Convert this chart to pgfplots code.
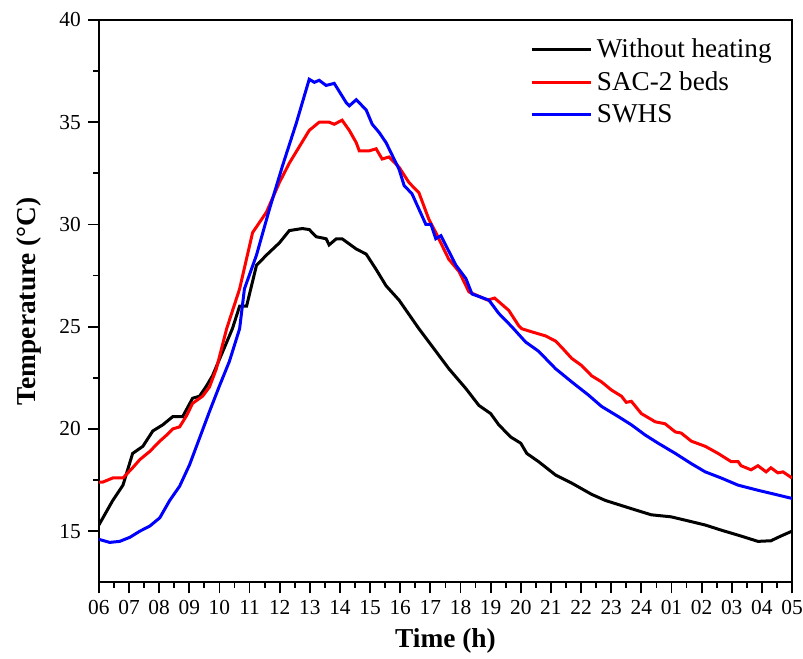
\documentclass[border=0pt]{standalone}
\usepackage{pgfplots}
\pgfplotsset{compat=1.18}
\usepackage{fontspec}
\setmainfont{Liberation Serif}
\begin{document}
\begin{tikzpicture}
\begin{axis}[
  scale only axis,
  width=347pt, height=281.5pt,
  xmin=0, xmax=23, ymin=12.5, ymax=40,
  xtick={0,...,23},
  xticklabels={06,07,08,09,10,11,12,13,14,15,16,17,18,19,20,21,22,23,24,01,02,03,04,05},
  minor x tick num=1,
  ytick={15,20,25,30,35,40},
  minor y tick num=1,
  tick align=outside,
  xtick pos=bottom, ytick pos=left,
  major tick length=5.5pt, minor tick length=2.7pt,
  every tick/.style={black, line width=0.9pt},
  axis line style={line width=0.9pt},
  /pgf/number format/assume math mode=true,
  ticklabel style={font=\fontsize{10.7}{13}\selectfont},
  xlabel={\textbf{Time (h)}},
  ylabel={\textbf{Temperature (°C)}},
  label style={font=\fontsize{13.7}{15}\selectfont},
  ylabel style={yshift=2pt},
  legend style={draw=none, fill=none, at={(1,1)}, anchor=north east, xshift=-5pt, yshift=-5pt,
    font=\fontsize{13.6}{15}\selectfont, row sep=1.6pt},
  legend cell align=left,
  legend image code/.code={\draw[#1] (0pt,0pt) -- (30pt,0pt);},
]
\addplot[black, line width=1.5pt] coordinates {
(0,15.3)(0.46,16.5)(0.8,17.25)(1.12,18.8)(1.46,19.15)(1.79,19.9)(2.12,20.2)(2.45,20.6)(2.78,20.6)(3.11,21.5)(3.34,21.6)(3.57,22.1)(3.77,22.6)(4.0,23.4)(4.33,24.55)(4.43,24.9)(4.67,26.0)(4.9,26.0)(5.23,28.0)(5.56,28.5)(5.99,29.1)(6.32,29.7)(6.75,29.8)(6.98,29.75)(7.21,29.4)(7.54,29.3)(7.64,29.0)(7.88,29.3)(8.07,29.3)(8.54,28.8)(8.87,28.55)(9.2,27.8)(9.53,27.0)(9.96,26.3)(10.62,24.9)(11.18,23.8)(11.61,22.95)(12.18,21.97)(12.61,21.15)(13.0,20.75)(13.27,20.2)(13.67,19.6)(14.0,19.3)(14.2,18.8)(14.59,18.4)(15.15,17.75)(15.69,17.35)(16.35,16.8)(16.81,16.5)(17.24,16.3)(17.67,16.1)(18.33,15.8)(18.99,15.7)(19.56,15.5)(20.12,15.3)(20.65,15.05)(21.31,14.76)(21.87,14.5)(22.3,14.53)(22.63,14.76)(23,15.0)
};
\addlegendentry{Without heating}
\addplot[red, line width=1.5pt] coordinates {
(0,17.4)(0.13,17.4)(0.46,17.6)(0.8,17.6)(1.12,18.1)(1.36,18.5)(1.69,18.9)(2.02,19.4)(2.25,19.7)(2.45,20.0)(2.68,20.1)(2.91,20.65)(3.11,21.25)(3.44,21.6)(3.67,22.05)(3.9,22.95)(4.24,24.9)(4.67,26.85)(5.1,29.6)(5.56,30.6)(5.99,32.05)(6.32,33.0)(6.65,33.8)(6.98,34.6)(7.31,35.0)(7.64,35.0)(7.81,34.9)(8.07,35.1)(8.31,34.6)(8.54,34.0)(8.64,33.6)(8.97,33.6)(9.2,33.7)(9.4,33.2)(9.63,33.3)(9.96,32.8)(10.29,32.05)(10.62,31.55)(10.95,30.25)(11.18,29.6)(11.61,28.3)(11.95,27.7)(12.28,26.7)(12.9,26.3)(13.13,26.4)(13.6,25.8)(13.93,25.05)(14.03,24.9)(14.36,24.75)(14.82,24.55)(15.15,24.3)(15.35,24.0)(15.69,23.45)(16.02,23.1)(16.35,22.6)(16.68,22.3)(17.01,21.9)(17.34,21.6)(17.5,21.3)(17.67,21.35)(18.0,20.75)(18.46,20.35)(18.79,20.25)(19.13,19.85)(19.32,19.8)(19.66,19.4)(20.12,19.15)(20.55,18.8)(20.98,18.4)(21.21,18.4)(21.31,18.2)(21.64,18.0)(21.87,18.2)(22.14,17.9)(22.3,18.1)(22.53,17.85)(22.7,17.9)(23,17.6)
};
\addlegendentry{SAC-2 beds}
\addplot[blue, line width=1.5pt] coordinates {
(0,14.6)(0.36,14.45)(0.69,14.5)(1.03,14.7)(1.36,15.0)(1.69,15.25)(2.02,15.65)(2.35,16.5)(2.68,17.2)(3.01,18.25)(3.34,19.55)(3.67,20.85)(4.0,22.1)(4.33,23.3)(4.67,24.9)(4.83,26.85)(5.23,28.5)(5.66,30.75)(6.09,32.85)(6.55,34.95)(6.98,37.1)(7.15,36.95)(7.31,37.05)(7.54,36.8)(7.81,36.9)(8.21,35.95)(8.31,35.8)(8.54,36.1)(8.87,35.6)(9.07,34.9)(9.3,34.5)(9.53,34.0)(9.96,32.7)(10.13,31.9)(10.39,31.5)(10.85,30.0)(11.02,30.0)(11.18,29.3)(11.35,29.45)(11.85,28.0)(12.18,27.35)(12.38,26.6)(12.94,26.3)(13.27,25.65)(13.7,25.0)(14.16,24.25)(14.59,23.8)(15.15,22.95)(15.69,22.3)(16.25,21.65)(16.68,21.1)(17.24,20.6)(17.67,20.2)(18.13,19.7)(18.56,19.3)(19.13,18.8)(19.66,18.3)(20.12,17.9)(20.65,17.6)(21.21,17.25)(21.87,17.0)(22.44,16.8)(23,16.6)
};
\addlegendentry{SWHS}
\end{axis}
\pgfresetboundingbox
\path (current axis.south west) ++(-49.5pt,-38pt) coordinate (bl);
\path (current axis.north east) ++(5.5pt,10pt) coordinate (tr);
\useasboundingbox (bl) rectangle (tr);
\end{tikzpicture}
\end{document}
